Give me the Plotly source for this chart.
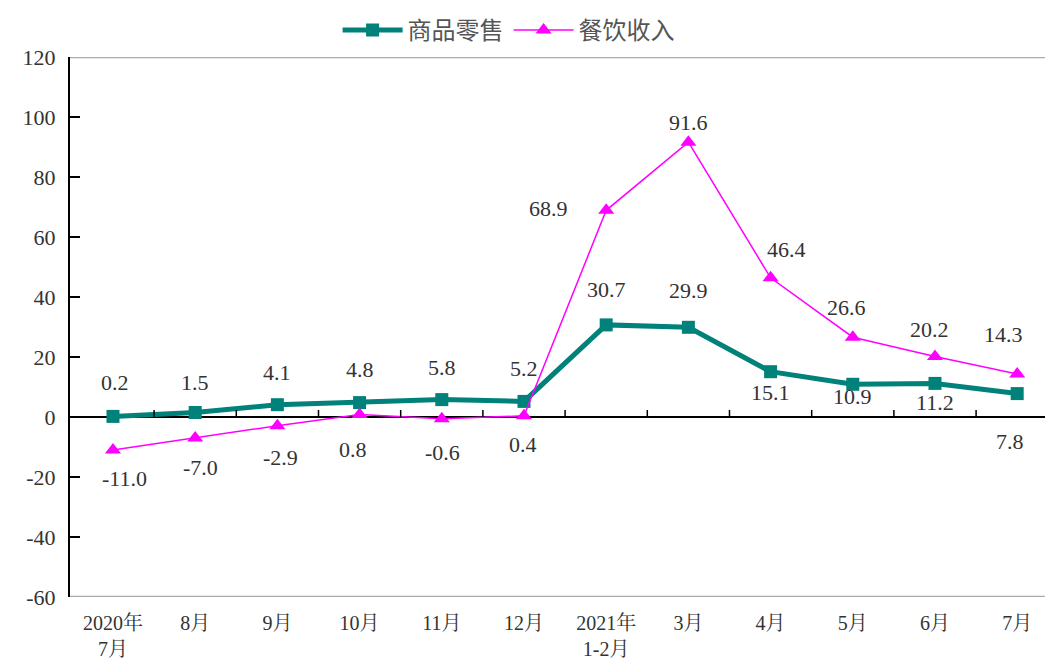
import plotly.graph_objects as go

categories = ["2020年<br>7月", "8月", "9月", "10月", "11月", "12月",
              "2021年<br>1-2月", "3月", "4月", "5月", "6月", "7月"]
retail = [0.2, 1.5, 4.1, 4.8, 5.8, 5.2, 30.7, 29.9, 15.1, 10.9, 11.2, 7.8]
catering = [-11.0, -7.0, -2.9, 0.8, -0.6, 0.4, 68.9, 91.6, 46.4, 26.6, 20.2, 14.3]
y_ticks = [-60, -40, -20, 0, 20, 40, 60, 80, 100, 120]
y_tick_text = ["-60", "-40", "-20", "0", "20", "40", "60", "80", "100", "120"]

# label offsets in pixels (style only)
retail_dy = [34, 30, 32, 33, 32, 33, 35, 37, -21, -12, -19, -48]
retail_dx = [2, 0, 0, 0, 0, 0, 0, 0, 0, 0, 0, -7]
cater_dy = [-28, -29, -32, -35, -34, -29, 2, 20, 28, 30, 27, 40]
cater_dx = [12, 5, 3, -7, 1, -1, -58, 0, 16, -6, -5, -14]

x = list(range(len(categories)))
TEAL = "#00827a"
MAG = "#ff00ff"
SERIF = "Liberation Serif, Noto Serif CJK SC, Noto Sans CJK SC, serif"

fig = go.Figure()
fig.add_trace(go.Scatter(
    x=x, y=retail, name="商品零售", mode="lines+markers",
    line=dict(color=TEAL, width=5), marker=dict(symbol="square", size=13, color=TEAL)))
fig.add_trace(go.Scatter(
    x=x, y=catering, name="餐饮收入", mode="lines+markers",
    line=dict(color=MAG, width=1.5), marker=dict(symbol="triangle-up", size=14, color=MAG)))

ann = []
for i, v in enumerate(retail):
    ann.append(dict(x=i, y=v, text=f"{v:.1f}", showarrow=False, xshift=retail_dx[i], yshift=retail_dy[i],
                    font=dict(family=SERIF, size=22, color="#333333")))
for i, v in enumerate(catering):
    ann.append(dict(x=i, y=v, text=f"{v:.1f}", showarrow=False, xshift=cater_dx[i], yshift=cater_dy[i],
                    font=dict(family=SERIF, size=22, color="#333333")))

shapes = [
    dict(type="line", xref="paper", yref="y", x0=0, x1=1, y0=120, y1=120, line=dict(color="#aaaaaa", width=2.5)),
    dict(type="line", xref="paper", yref="y", x0=0, x1=1, y0=-60, y1=-60, line=dict(color="#aaaaaa", width=2.5)),
]
for i in range(len(categories) - 1):
    shapes.append(dict(type="line", xref="x", yref="y", ysizemode="pixel", yanchor=0,
                       x0=i + 0.5, x1=i + 0.5, y0=0, y1=7, line=dict(color="black", width=1.5)))

fig.update_layout(
    width=1053, height=665,
    margin=dict(l=62, r=0, t=49, b=76, autoexpand=False),
    paper_bgcolor="white", plot_bgcolor="white",
    showlegend=True,
    legend=dict(orientation="h", xref="container", x=0.313, xanchor="left",
                yref="container", y=1.0, yanchor="top",
                font=dict(family="Noto Sans CJK SC", size=24, color="#555555"),
                itemwidth=60, tracegroupgap=0),
    annotations=ann, shapes=shapes,
    xaxis=dict(tickmode="array", tickvals=x, ticktext=categories, range=[-0.523, 11.533],
               showgrid=False, zeroline=False, showline=False, ticks="", automargin=False,
               ticklabelstandoff=12,
               tickfont=dict(family=SERIF, size=20, color="#333333")),
    yaxis=dict(range=[-60, 120], tickvals=y_ticks, ticktext=y_tick_text, showgrid=False, automargin=False,
               zeroline=True, zerolinecolor="black", zerolinewidth=1.5,
               showline=True, linecolor="black", linewidth=2,
               ticks="inside", ticklen=10, tickwidth=2, tickcolor="black",
               ticklabelstandoff=8,
               tickfont=dict(family=SERIF, size=22, color="#333333")),
)

fig.write_html("out.html")
